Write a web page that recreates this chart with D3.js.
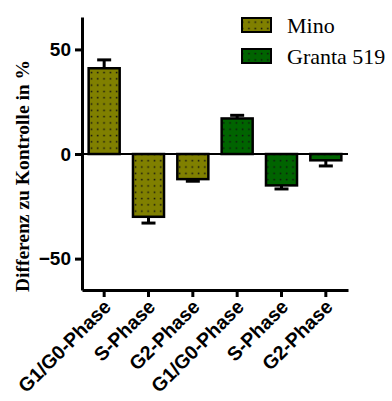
<!DOCTYPE html>
<html>
<head>
<meta charset="utf-8">
<script src="https://cdn.jsdelivr.net/npm/d3@7"></script>
<style>
  body { margin: 0; background: #fff; }
  svg { display: block; }
</style>
</head>
<body>
<div id="chart"></div>
<script>
var svgWidth = 392;
var svgHeight = 401;

// data
var phases = ["G1/G0-Phase", "S-Phase", "G2-Phase", "G1/G0-Phase", "S-Phase", "G2-Phase"];
var cellLines = ["Mino", "Mino", "Mino", "Granta 519", "Granta 519", "Granta 519"];
var values = [41, -30, -12, 17, -15, -3];
var errors = [4, 3, 1, 1.5, 1.7, 2.7];
var legendNames = ["Mino", "Granta 519"];
var yTicks = [-50, 0, 50];

var colors = {"Mino": "#808000", "Granta 519": "#006400"};

var plot = {left: 82, right: 348, top: 17, bottom: 290};

var svg = d3.select("#chart")
  .append("svg")
  .attr("width", svgWidth)
  .attr("height", svgHeight);

// dotted fill patterns
var defs = svg.append("defs");
legendNames.forEach(function(name, i) {
  var p = defs.append("pattern")
    .attr("id", "pat" + i)
    .attr("patternUnits", "userSpaceOnUse")
    .attr("width", 6.3)
    .attr("height", 6.3);
  p.append("rect").attr("width", 6.3).attr("height", 6.3).attr("fill", colors[name]);
  p.append("rect").attr("x", 2.5).attr("y", 2.5).attr("width", 1.5).attr("height", 1.5).attr("fill", "#111");
});

var idx = d3.range(values.length);

var xScale = d3.scaleBand()
  .domain(idx)
  .range([plot.left, plot.right])
  .paddingInner(0.3)
  .paddingOuter(0.15);

var yScale = d3.scaleLinear()
  .domain([-65, 65.5])
  .range([plot.bottom, plot.top]);

// zero line
svg.append("line")
  .attr("x1", plot.left).attr("x2", plot.right)
  .attr("y1", yScale(0)).attr("y2", yScale(0))
  .attr("stroke", "#000").attr("stroke-width", 2);

// error bars (one-sided, outward)
idx.forEach(function(i) {
  var cx = xScale(i) + xScale.bandwidth() / 2;
  var v = values[i];
  var end = v >= 0 ? v + errors[i] : v - errors[i];
  svg.append("line")
    .attr("x1", cx).attr("x2", cx)
    .attr("y1", yScale(v)).attr("y2", yScale(end))
    .attr("stroke", "#000").attr("stroke-width", 3);
  svg.append("line")
    .attr("x1", cx - 7).attr("x2", cx + 7)
    .attr("y1", yScale(end)).attr("y2", yScale(end))
    .attr("stroke", "#000").attr("stroke-width", 3);
});

// bars
svg.selectAll("rect.bar")
  .data(idx)
  .enter()
  .append("rect")
  .attr("class", "bar")
  .attr("x", d => xScale(d))
  .attr("width", xScale.bandwidth())
  .attr("y", d => yScale(Math.max(0, values[d])))
  .attr("height", d => Math.abs(yScale(values[d]) - yScale(0)))
  .attr("fill", d => "url(#pat" + legendNames.indexOf(cellLines[d]) + ")")
  .attr("stroke", "#000")
  .attr("stroke-width", 2.5);

// y axis
var yAxis = svg.append("g")
  .attr("transform", `translate(${plot.left},0)`)
  .call(d3.axisLeft(yScale).tickValues(yTicks).tickSize(7).tickPadding(4).tickSizeOuter(0));
yAxis.select(".domain").attr("stroke-width", 3);
yAxis.selectAll(".tick line").attr("stroke-width", 3);
yAxis.selectAll(".tick text")
  .attr("font-family", "Liberation Sans, Arial, sans-serif")
  .attr("font-weight", "bold")
  .attr("font-size", 19)
  .attr("fill", "#000");

// x axis
var xAxis = svg.append("g")
  .attr("transform", `translate(0,${plot.bottom})`)
  .call(d3.axisBottom(xScale).tickFormat(d => phases[d]).tickSize(7).tickSizeOuter(0));
xAxis.select(".domain").attr("stroke-width", 3);
xAxis.selectAll(".tick line").attr("stroke-width", 3);
xAxis.selectAll(".tick text")
  .attr("font-family", "Liberation Sans, Arial, sans-serif")
  .attr("font-weight", "bold")
  .attr("font-size", 19.5)
  .attr("fill", "#000")
  .attr("text-anchor", "end")
  .attr("dy", null)
  .attr("y", 0)
  .attr("transform", "translate(8,18) rotate(-45)");

// y label
svg.append("text")
  .attr("transform", `translate(29,176) rotate(-90)`)
  .attr("text-anchor", "middle")
  .attr("font-family", "Liberation Serif, Times New Roman, serif")
  .attr("font-weight", "bold")
  .attr("font-size", 19.5)
  .text("Differenz zu Kontrolle in %");

// legend
var legend = svg.append("g");
legendNames.forEach(function(name, i) {
  var ly = 18 + i * 31;
  legend.append("rect")
    .attr("x", 242).attr("y", ly)
    .attr("width", 29).attr("height", 14)
    .attr("fill", "url(#pat" + i + ")")
    .attr("stroke", "#000").attr("stroke-width", 2);
  legend.append("text")
    .attr("x", 287).attr("y", ly + 15)
    .attr("font-family", "Liberation Serif, Times New Roman, serif")
    .attr("font-size", 22)
    .text(name);
});
</script>
</body>
</html>
